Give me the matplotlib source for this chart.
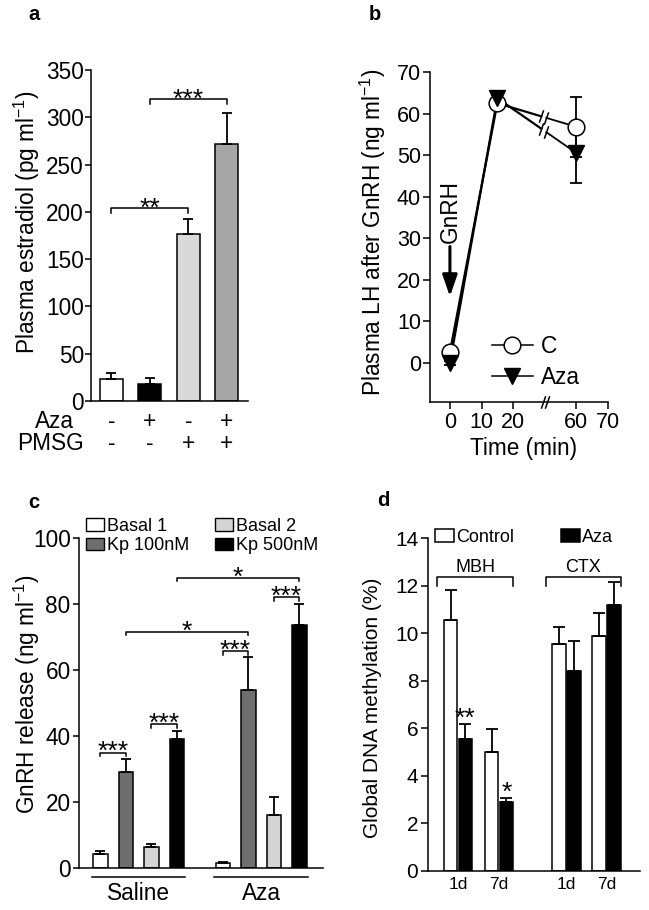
import numpy as np
import matplotlib
matplotlib.use("Agg")
import matplotlib.pyplot as plt
from matplotlib.patches import Patch
from matplotlib.lines import Line2D

plt.rcParams["font.family"] = ["Liberation Sans", "DejaVu Sans"]
plt.rcParams["mathtext.fontset"] = "custom"
plt.rcParams["mathtext.rm"] = "Liberation Sans"
plt.rcParams["mathtext.it"] = "Liberation Sans:italic"
plt.rcParams["mathtext.bf"] = "Liberation Sans:bold"
plt.rcParams["axes.linewidth"] = 1.1
plt.rcParams["xtick.major.width"] = 1.1
plt.rcParams["ytick.major.width"] = 1.1

# ---- a: plasma estradiol ----
estradiol = [23, 18, 177, 272]
estradiol_err = [7, 6, 15, 33]
estradiol_colors = ["white", "black", "#d9d9d9", "#a6a6a6"]
aza_signs = ["-", "+", "-", "+"]
pmsg_signs = ["-", "-", "+", "+"]
estradiol_sig = [(0, 2, 204, "**"), (1, 3, 319, "***")]

# ---- b: LH after GnRH ----
time_min = [0, 15, 60]
lh_c = [2.6, 62.5, 56.8]
lh_c_err = [1.0, 0.8, 7.2]
lh_aza = [0.0, 63.7, 50.5]
lh_aza_err = [0.4, 0.8, 7.2]
time_ticks = [0, 10, 20, 60, 70]

# ---- c: GnRH release ----
gnrh_groups = ["Saline", "Aza"]
gnrh_series = ["Basal 1", "Kp 100nM", "Basal 2", "Kp 500nM"]
gnrh_colors = ["white", "#6e6e6e", "#d4d4d4", "black"]
gnrh_saline = [4.2, 29, 6.5, 39]
gnrh_saline_err = [1.0, 4.0, 0.8, 2.5]
gnrh_aza = [1.5, 54, 16, 73.5]
gnrh_aza_err = [0.4, 10, 5.5, 6.5]

# ---- d: global DNA methylation ----
meth_regions = ["MBH", "CTX"]
meth_days = ["1d", "7d", "1d", "7d"]
meth_control = [10.55, 5.0, 9.55, 9.9]
meth_control_err = [1.25, 0.95, 0.7, 0.95]
meth_aza = [5.55, 2.9, 8.4, 11.2]
meth_aza_err = [0.65, 0.15, 1.25, 0.95]
meth_stars = [(0, 6.65, "**"), (1, 3.55, "*")]

W, H = 649, 910
FS = 16.3     # panels a-c
FSD = 15      # panel d
SFS = 19      # asterisks


def px_axes(fig, x0, y0, x1, y1):
    return fig.add_axes([x0 / W, 1 - y1 / H, (x1 - x0) / W, (y1 - y0) / H])


def clean(ax):
    ax.spines["top"].set_visible(False)
    ax.spines["right"].set_visible(False)


def stars(ax, x, y, s, fs=SFS):
    # y is where the centre of the asterisks should sit
    ax.annotate(s, xy=(x, y), xytext=(0, -0.5 * fs), textcoords="offset points",
                ha="center", va="baseline", fontsize=fs, annotation_clip=False)


def bracket(ax, x0, x1, y, h, s, fs=SFS, lift=9):
    ax.plot([x0, x0, x1, x1], [y - h, y, y, y - h], color="black", lw=1.1,
            clip_on=False)
    if s:
        ax.annotate(s, xy=((x0 + x1) / 2, y), xytext=(0, lift * 0.72 - 0.58 * fs),
                    textcoords="offset points", ha="center", va="baseline",
                    fontsize=fs, annotation_clip=False)


fig = plt.figure(figsize=(W / 100, H / 100), dpi=100)

# ================= a =================
ax = px_axes(fig, 91, 70, 248, 401)
clean(ax)
xa = np.arange(len(estradiol))
ax.bar(xa, estradiol, width=0.6, color=estradiol_colors, edgecolor="black",
       linewidth=1.1, zorder=2)
ax.errorbar(xa, estradiol, yerr=[np.zeros(len(xa)), estradiol_err], fmt="none",
            ecolor="black", elinewidth=1.3, capsize=3.5, capthick=1.3, zorder=3)
for i0, i1, y, s in estradiol_sig:
    bracket(ax, xa[i0], xa[i1], y, 5, s, lift=8)
ax.set_xlim(-0.53, 3.55)
ax.set_ylim(0, 350)
ax.set_yticks(np.arange(0, 351, 50))
ax.set_xticks([])
ax.tick_params(axis="y", labelsize=FS, length=4, pad=1)
ax.set_ylabel("Plasma estradiol (pg ml$^{-1}$)", fontsize=FS, va="center")
ax.yaxis.set_label_coords(-0.41, 0.54)
tr = ax.get_xaxis_transform()
for i in range(len(xa)):
    ax.text(xa[i], -0.062, aza_signs[i], transform=tr, ha="center", va="center",
            fontsize=FS)
    ax.text(xa[i], -0.129, pmsg_signs[i], transform=tr, ha="center", va="center",
            fontsize=FS)
ax.text(-0.97, -0.062, "Aza", transform=tr, ha="right", va="center", fontsize=FS)
ax.text(-0.72, -0.129, "PMSG", transform=tr, ha="right", va="center", fontsize=FS)
fig.text(28 / W, 1 - 15 / H, "a", fontsize=14.5, fontweight="bold", va="center")

# ================= b =================
ax = px_axes(fig, 430, 72, 608, 402)
clean(ax)


def tmap(t):
    t = np.asarray(t, dtype=float)
    return np.where(t <= 20, t, t - 20)


tx = tmap(time_min)
gap_lo, gap_hi = 28.9, 30.5
for y, err in [(lh_c, lh_c_err), (lh_aza, lh_aza_err)]:
    y = np.asarray(y)
    ylo = np.interp(gap_lo, tx[1:], y[1:])
    yhi = np.interp(gap_hi, tx[1:], y[1:])
    ax.plot(list(tx[:2]) + [gap_lo], list(y[:2]) + [ylo], color="black", lw=1.6,
            zorder=2)
    ax.plot([gap_hi, tx[2]], [yhi, y[2]], color="black", lw=1.3, zorder=2)
    ax.plot([gap_lo, gap_hi], [ylo, yhi], ls="none", marker=[(-0.35, -1), (0.35, 1)],
            ms=9, mew=1.1, color="black", zorder=3)
    ax.errorbar(tx, y, yerr=err, fmt="none", ecolor="black", elinewidth=1.3,
                capsize=4.5, capthick=1.3, zorder=3)
ax.plot(tx, lh_c, ls="none", marker="o", ms=12, mfc="white", mec="black",
        mew=1.1, zorder=4)
ax.plot(tx, lh_aza, ls="none", marker="v", ms=12, mfc="black", mec="black",
        zorder=5)
lg_c = Line2D([], [], color="black", lw=1.1, marker="o", ms=12, mfc="white",
              mec="black", mew=1.1)
lg_a = Line2D([], [], color="black", lw=1.1, marker="v", ms=12, mfc="black",
              mec="black")
ax.legend([lg_c, lg_a], ["C", "Aza"], loc="upper left", frameon=False,
          bbox_to_anchor=(492 / W, 1 - 335 / H), bbox_transform=fig.transFigure,
          borderpad=0, borderaxespad=0, handlelength=1.8, handletextpad=0.35,
          labelspacing=0.35, fontsize=FS, numpoints=1)
ax.set_xlim(-6.3, 50)
ax.set_ylim(-9.4, 70)
ax.set_yticks(np.arange(0, 71, 10))
ax.set_xticks(tmap(time_ticks))
ax.set_xticklabels([str(t) for t in time_ticks])
ax.tick_params(axis="both", labelsize=15.5, length=5, pad=1.5)
ax.tick_params(axis="x", pad=2.5)
ax.plot([29.3, 30.7], [0, 0], ls="none", marker=[(-0.35, -1), (0.35, 1)], ms=9,
        mew=1.1, color="black", transform=ax.get_xaxis_transform(), clip_on=False)
ax.annotate("", xy=(0, 16), xytext=(0, 28),
            arrowprops=dict(arrowstyle="-|>,head_length=1.3,head_width=0.45",
                            lw=2.2, color="black", mutation_scale=10,
                            shrinkA=0, shrinkB=0))
ax.text(0, 36.5, "GnRH", rotation=90, ha="center", va="center", fontsize=FS)
ax.set_ylabel("Plasma LH after GnRH (ng ml$^{-1}$)", fontsize=FS, va="center")
ax.yaxis.set_label_coords((373 - 430) / 178, (402 - 232) / 330)
ax.set_xlabel("Time (min)", fontsize=FS, va="center")
ax.xaxis.set_label_coords((524 - 430) / 178, (402 - 448) / 330)
fig.text(369 / W, 1 - 15 / H, "b", fontsize=14.5, fontweight="bold", va="center")

# ================= c =================
ax = px_axes(fig, 79, 538, 323, 868)
clean(ax)
group_off = [0, 4.8]
bw = 0.57
handles = []
for i, name in enumerate(gnrh_series):
    xs = [group_off[0] + i, group_off[1] + i]
    vals = [gnrh_saline[i], gnrh_aza[i]]
    errs = [gnrh_saline_err[i], gnrh_aza_err[i]]
    ax.bar(xs, vals, width=bw, color=gnrh_colors[i], edgecolor="black",
           linewidth=1.1, zorder=2)
    ax.errorbar(xs, vals, yerr=[[0, 0], errs], fmt="none", ecolor="black",
                elinewidth=1.3, capsize=3.5, capthick=1.3, zorder=3)
    handles.append(Patch(facecolor=gnrh_colors[i], edgecolor="black", linewidth=1.0))
# within-group comparisons
bracket(ax, 0, 1, 35, 1.2, "***")
bracket(ax, 2, 3, 43.6, 1.2, "***")
bracket(ax, 4.8, 5.8, 65.7, 1.2, "***")
bracket(ax, 6.8, 7.8, 82, 1.2, "***")
# between-group comparisons
bracket(ax, 1, 5.8, 71.5, 1.0, "*", lift=8)
bracket(ax, 3, 7.8, 88, 1.0, "*", lift=8)
ax.legend(handles, gnrh_series, ncol=2, loc="upper left", frameon=False,
          bbox_to_anchor=(86 / W, 1 - 518 / H), bbox_transform=fig.transFigure,
          borderpad=0, borderaxespad=0, handlelength=1.0, handleheight=0.7,
          handletextpad=0.15, columnspacing=1.45, labelspacing=0.12, fontsize=13)
ax.set_xlim(-0.84, 8.73)
ax.set_ylim(0, 100)
ax.set_yticks(np.arange(0, 101, 20))
ax.set_xticks([])
ax.tick_params(axis="y", labelsize=FS, length=4, pad=2)
tr = ax.get_xaxis_transform()
for g, off in zip(gnrh_groups, group_off):
    ax.plot([off - 0.33, off + 3.33], [-0.027, -0.027], color="black", lw=1.1,
            transform=tr, clip_on=False)
    ax.text(off + 1.5, -0.076, g, transform=tr, ha="center", va="center",
            fontsize=FS)
ax.set_ylabel("GnRH release (ng ml$^{-1}$)", fontsize=FS, va="center")
ax.yaxis.set_label_coords((27 - 79) / 244, (868 - 694) / 330)
fig.text(28 / W, 1 - 502 / H, "c", fontsize=14.5, fontweight="bold", va="center")

# ================= d =================
ax = px_axes(fig, 428, 538, 640, 871)
clean(ax)
pos = np.array([0, 1, 2.65, 3.62])
dw = 0.33
ax.bar(pos - 0.18, meth_control, width=dw, color="white", edgecolor="black",
       linewidth=1.1, zorder=2, label="Control")
ax.bar(pos + 0.18, meth_aza, width=dw, color="black", edgecolor="black",
       linewidth=1.1, zorder=2, label="Aza")
ax.errorbar(pos - 0.18, meth_control, yerr=[np.zeros(4), meth_control_err],
            fmt="none", ecolor="black", elinewidth=1.3, capsize=4, capthick=1.3,
            zorder=3)
ax.errorbar(pos + 0.18, meth_aza, yerr=[np.zeros(4), meth_aza_err],
            fmt="none", ecolor="black", elinewidth=1.3, capsize=4, capthick=1.3,
            zorder=3)
for i, y, s in meth_stars:
    stars(ax, pos[i] + 0.18, y, s)
for r, (a0, a1) in zip(meth_regions, [(0, 1), (2, 3)]):
    x0, x1 = pos[a0] - 0.51, pos[a1] + 0.35
    ax.plot([x0, x0, x1, x1], [12.0, 12.35, 12.35, 12.0], color="black", lw=1.1)
    ax.text((x0 + x1) / 2, 12.42, r, ha="center", va="bottom", fontsize=13)
ax.legend(loc="upper left", ncol=2, frameon=False,
          bbox_to_anchor=(435 / W, 1 - 529 / H), bbox_transform=fig.transFigure,
          borderpad=0, borderaxespad=0, handlelength=1.05, handleheight=0.7,
          handletextpad=0.12, columnspacing=2.6, fontsize=13)
ax.set_xlim(-0.73, 4.44)
ax.set_ylim(0, 14)
ax.set_yticks(np.arange(0, 15, 2))
ax.set_xticks(pos)
ax.set_xticklabels(meth_days, fontsize=12.5)
ax.tick_params(axis="x", length=0, pad=4)
ax.tick_params(axis="y", labelsize=FSD, length=5, pad=2)
ax.set_ylabel("Global DNA methylation (%)", fontsize=FSD, va="center")
ax.yaxis.set_label_coords((373 - 428) / 212, (871 - 708) / 333)
fig.text(377 / W, 1 - 500 / H, "d", fontsize=14.5, fontweight="bold", va="center")

fig.savefig("out.png", dpi=100)
